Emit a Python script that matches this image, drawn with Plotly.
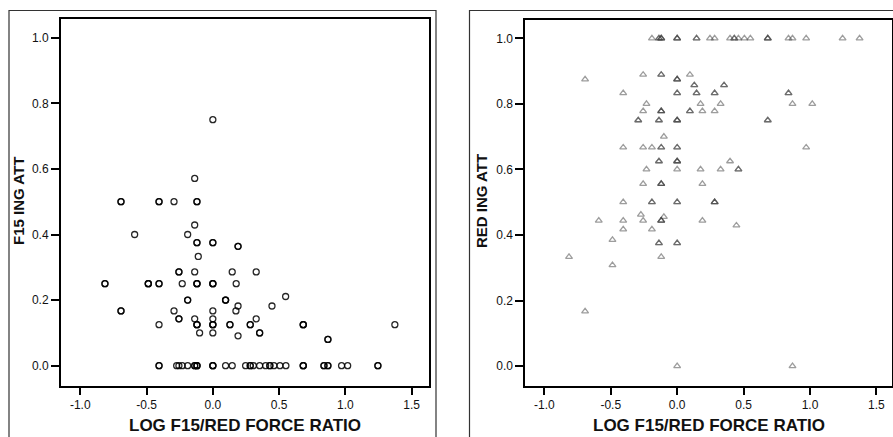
import plotly.graph_objects as go

W, H = 893, 437

# Left panel: F15 ingress attrition vs log force ratio (repeats = coincident sorties)
f15_ratio = [
    0.0, -0.137, -0.693, -0.693, -0.406, -0.406, -0.293, -0.12, -0.12,
    -0.137, -0.59, -0.19, -0.12, -0.12, 0.0, 0.0, 0.19, 0.19, -0.11,
    -0.256, -0.256, -0.137, 0.146, 0.327,
    -0.814, -0.814, -0.487, -0.487, -0.487, -0.406, -0.406, -0.231,
    -0.12, -0.12, -0.12, 0.0, 0.0, 0.0, 0.176, 0.549,
    -0.19, -0.19, 0.096, 0.096, 0.096, 0.19, 0.446,
    -0.693, -0.693, -0.293, 0.0, 0.174,
    -0.256, -0.256, -0.137, 0.0, 0.327,
    -0.406, -0.12, -0.12, -0.12, 0.0, 0.0, 0.0, 0.129, 0.129, 0.282, 0.282,
    0.682, 0.682, 0.682, 1.373,
    -0.1, 0.0, 0.353, 0.353, 0.19, 0.868, 0.868,
    -0.406, -0.406, -0.273, -0.256, -0.231, -0.19, -0.137, -0.137,
    -0.12, -0.12, -0.12, 0.0, 0.0, 0.0, 0.096, 0.146, 0.247, 0.282, 0.282,
    0.305, 0.353, 0.398, 0.43, 0.43, 0.461, 0.506, 0.551, 0.682, 0.682,
    0.682, 0.838, 0.838, 0.868, 0.868, 0.971, 1.017, 1.245, 1.245,
]
f15_att = [
    0.75, 0.571, 0.5, 0.5, 0.5, 0.5, 0.5, 0.5, 0.5,
    0.429, 0.4, 0.4, 0.375, 0.375, 0.375, 0.375, 0.364, 0.364, 0.333,
    0.286, 0.286, 0.286, 0.286, 0.286,
    0.25, 0.25, 0.25, 0.25, 0.25, 0.25, 0.25, 0.25,
    0.25, 0.25, 0.25, 0.25, 0.25, 0.25, 0.25, 0.211,
    0.2, 0.2, 0.2, 0.2, 0.2, 0.182, 0.182,
    0.167, 0.167, 0.167, 0.167, 0.167,
    0.143, 0.143, 0.143, 0.143, 0.143,
    0.125, 0.125, 0.125, 0.125, 0.125, 0.125, 0.125, 0.125, 0.125, 0.125, 0.125,
    0.125, 0.125, 0.125, 0.125,
    0.1, 0.1, 0.1, 0.1, 0.091, 0.08, 0.08,
    0.0, 0.0, 0.0, 0.0, 0.0, 0.0, 0.0, 0.0,
    0.0, 0.0, 0.0, 0.0, 0.0, 0.0, 0.0, 0.0, 0.0, 0.0, 0.0,
    0.0, 0.0, 0.0, 0.0, 0.0, 0.0, 0.0, 0.0, 0.0, 0.0,
    0.0, 0.0, 0.0, 0.0, 0.0, 0.0, 0.0, 0.0, 0.0,
]

# Right panel: Red ingress attrition vs log force ratio
red_ratio = [
    -0.19, -0.137, -0.137, -0.12, -0.12, -0.12, 0.0, 0.0, 0.0, 0.146, 0.146,
    0.247, 0.282, 0.398, 0.43, 0.43, 0.461, 0.506, 0.551, 0.682, 0.682, 0.682,
    0.838, 0.868, 0.971, 1.245, 1.373,
    -0.693, 0.0, 0.0, 0.0,
    -0.256, -0.12, -0.12, 0.096,
    0.129, 0.129, 0.353, 0.353,
    -0.406, 0.0, 0.0, 0.146, 0.146, 0.282, 0.282, 0.838, 0.838,
    -0.231, 0.176, 0.327, 0.868, 1.017,
    -0.256, -0.12, -0.12, -0.12, 0.096, 0.096, 0.19, 0.282,
    -0.293, -0.293, -0.137, -0.137, 0.0, 0.0, 0.0, 0.682, 0.682,
    -0.1,
    -0.406, -0.256, -0.19, -0.12, -0.12, 0.0, 0.0, 0.971,
    -0.137, -0.137, 0.0, 0.0, 0.0, 0.398,
    -0.231, 0.0, 0.176, 0.327, 0.461, 0.461,
    -0.256, -0.12, -0.12, -0.12, 0.19,
    -0.406, -0.19, -0.19, 0.0, 0.0, 0.282, 0.282, 0.282,
    -0.273, -0.1,
    -0.59, -0.406, -0.256, -0.12, -0.12, -0.12, 0.19,
    0.446,
    -0.406, -0.19,
    -0.487,
    -0.137, -0.137, 0.0, 0.0,
    -0.814, -0.12,
    -0.487,
    -0.693,
    0.0, 0.868,
]
red_att = [
    1.0, 1.0, 1.0, 1.0, 1.0, 1.0, 1.0, 1.0, 1.0, 1.0, 1.0,
    1.0, 1.0, 1.0, 1.0, 1.0, 1.0, 1.0, 1.0, 1.0, 1.0, 1.0,
    1.0, 1.0, 1.0, 1.0, 1.0,
    0.875, 0.875, 0.875, 0.875,
    0.889, 0.889, 0.889, 0.889,
    0.857, 0.857, 0.857, 0.857,
    0.833, 0.833, 0.833, 0.833, 0.833, 0.833, 0.833, 0.833, 0.833,
    0.8, 0.8, 0.8, 0.8, 0.8,
    0.778, 0.778, 0.778, 0.778, 0.778, 0.778, 0.778, 0.778,
    0.75, 0.75, 0.75, 0.75, 0.75, 0.75, 0.75, 0.75, 0.75,
    0.7,
    0.667, 0.667, 0.667, 0.667, 0.667, 0.667, 0.667, 0.667,
    0.625, 0.625, 0.625, 0.625, 0.625, 0.625,
    0.6, 0.6, 0.6, 0.6, 0.6, 0.6,
    0.556, 0.556, 0.556, 0.556, 0.556,
    0.5, 0.5, 0.5, 0.5, 0.5, 0.5, 0.5, 0.5,
    0.462, 0.455,
    0.444, 0.444, 0.444, 0.444, 0.444, 0.444, 0.444,
    0.429,
    0.417, 0.417,
    0.385,
    0.375, 0.375, 0.375, 0.375,
    0.333, 0.333,
    0.308,
    0.167,
    0.0, 0.0,
]

x_ticks = [-1.0, -0.5, 0.0, 0.5, 1.0, 1.5]
x_tick_text = ["-1.0", "-0.5", "0.0", "0.5", "1.0", "1.5"]
y_ticks = [0.0, 0.2, 0.4, 0.6, 0.8, 1.0]
y_tick_text = ["0.0", "0.2", "0.4", "0.6", "0.8", "1.0"]

x_title = "LOG F15/RED FORCE RATIO"
left_y_title = "F15 ING ATT"
right_y_title = "RED ING ATT"

FONT = "Liberation Sans, Arial, Helvetica, sans-serif"


def px_x(v):
    return v / W


def px_y(v):
    return 1 - v / H


fig = go.Figure()

fig.add_trace(go.Scatter(
    x=f15_ratio, y=f15_att, mode="markers",
    marker=dict(symbol="circle-open", size=6,
                color="rgba(0,0,0,0.85)", line=dict(width=1.3, color="rgba(0,0,0,0.85)")),
    xaxis="x", yaxis="y", showlegend=False, hoverinfo="x+y",
))

fig.add_trace(go.Scatter(
    x=red_ratio, y=red_att, mode="markers",
    marker=dict(symbol="triangle-up-open", size=6,
                color="rgba(60,60,60,0.5)", line=dict(width=1.3, color="rgba(60,60,60,0.5)")),
    xaxis="x2", yaxis="y2", showlegend=False, hoverinfo="x+y",
))

axis_common = dict(
    showline=True, linewidth=2, linecolor="black", mirror=True,
    showgrid=False, zeroline=False,
    ticks="outside", tickwidth=2, tickcolor="black",
    tickfont=dict(family=FONT, size=12, color="#111"),
)

fig.update_layout(
    width=W, height=H,
    margin=dict(l=0, r=0, t=0, b=0),
    paper_bgcolor="white", plot_bgcolor="white",
    xaxis=dict(domain=[px_x(61), px_x(429)], range=[-1.1455, 1.6305],
               tickvals=x_ticks, ticktext=x_tick_text, ticklen=7,
               anchor="y", **axis_common),
    yaxis=dict(domain=[px_y(386), px_y(19)], range=[-0.0619, 1.057],
               tickvals=y_ticks, ticktext=y_tick_text, ticklen=8,
               anchor="x", **axis_common),
    xaxis2=dict(domain=[px_x(525.3), px_x(892)], range=[-1.143, 1.617],
                tickvals=x_ticks, ticktext=x_tick_text, ticklen=7,
                anchor="y2", **axis_common),
    yaxis2=dict(domain=[px_y(385.7), px_y(20)], range=[-0.060, 1.056],
                tickvals=y_ticks, ticktext=y_tick_text, ticklen=8,
                anchor="x2", **axis_common),
)

# Outer panel frames
fig.add_shape(type="rect", xref="paper", yref="paper",
              x0=px_x(9), x1=px_x(436), y0=-0.1, y1=px_y(10.5),
              line=dict(color="#333", width=1.2), layer="below")
fig.add_shape(type="rect", xref="paper", yref="paper",
              x0=px_x(469.5), x1=1.1, y0=-0.1, y1=px_y(10.5),
              line=dict(color="#333", width=1.2), layer="below")

x_title_font = dict(family=FONT, size=17, color="#111")
y_title_font = dict(family=FONT, size=15, color="#111")

for cx, text in [(245, x_title), (708.5, x_title)]:
    fig.add_annotation(x=px_x(cx), y=px_y(425), xref="paper", yref="paper",
                       text=f"<b>{text}</b>", showarrow=False, font=x_title_font,
                       xanchor="center", yanchor="middle")

for cx, text in [(18.5, left_y_title), (481.5, right_y_title)]:
    fig.add_annotation(x=px_x(cx), y=px_y(201.5), xref="paper", yref="paper",
                       text=f"<b>{text}</b>", showarrow=False, font=y_title_font,
                       textangle=-90, xanchor="center", yanchor="middle")

fig.write_html("out.html")
